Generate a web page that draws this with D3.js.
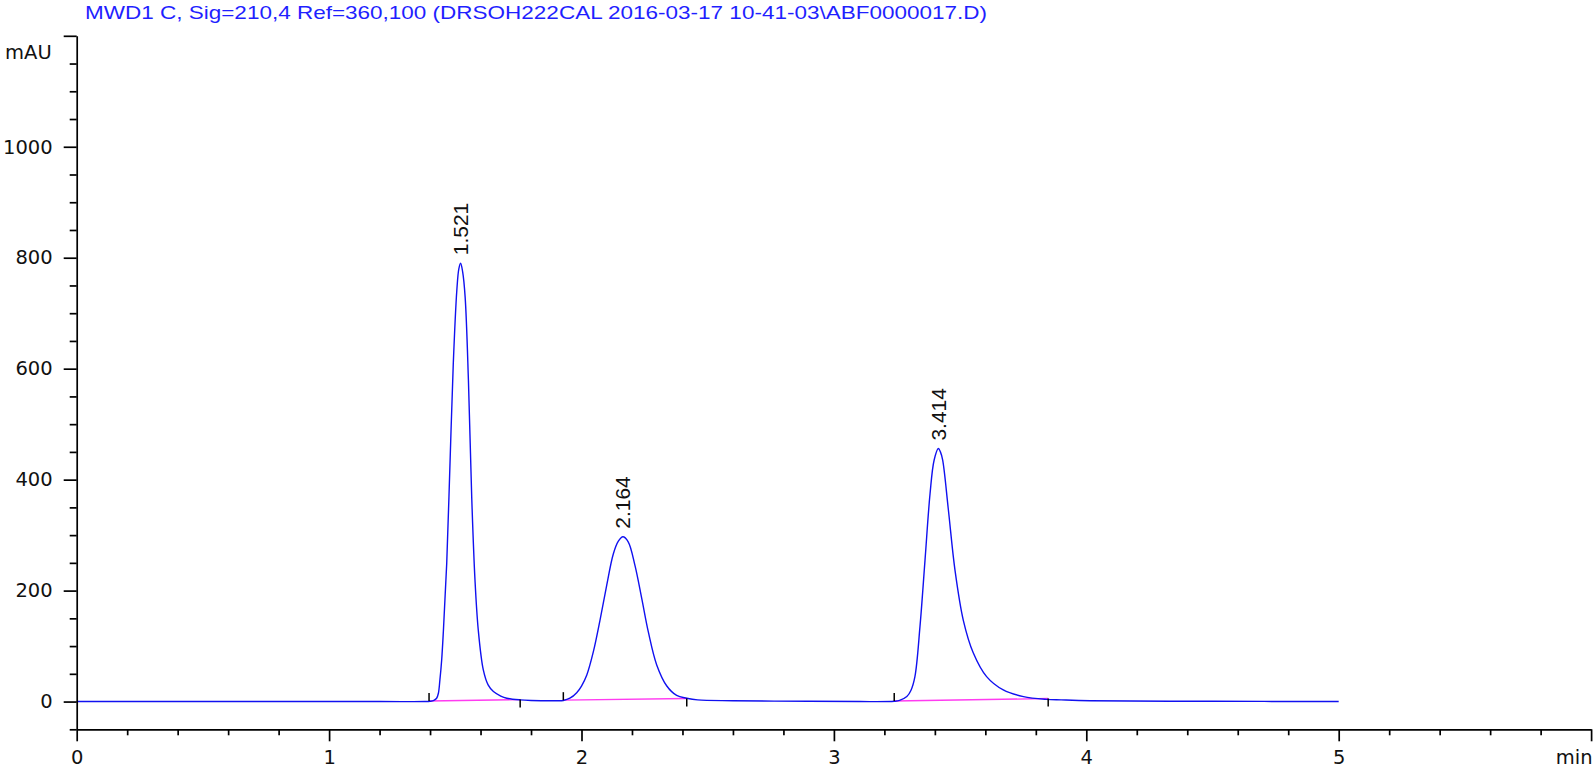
<!DOCTYPE html>
<html>
  <head>
    <meta charset="utf-8" />
    <title>Chromatogram</title>
    <script src="https://d3js.org/d3.v7.min.js"></script>
    <style>
      body {
        margin: 0px;
        background-color: white;
      }

      .axis path, .axis line {
        stroke: black;
        stroke-width: 1.7px;
      }

      .axis text {
        fill: #111;
        font-family: "DejaVu Sans", sans-serif;
        font-size: 19.5px;
      }
    </style>
</head>
<body>

    <svg id="chart">
        <g id="baselines"></g>
        <g id="trace"></g>
        <g id="markers"></g>
        <g id="labels"></g>
        <g id="x"></g>
        <g id="xminor"></g>
        <g id="y"></g>
        <g id="yminor"></g>
    </svg>

    <script>
        var title = "MWD1 C, Sig=210,4 Ref=360,100 (DRSOH222CAL 2016-03-17 10-41-03\\ABF0000017.D)";

        // signal: retention time (min) and absorbance (mAU)
        var retentionTime = [0, 1.20, 1.38, 1.400, 1.415, 1.426, 1.433, 1.439, 1.446, 1.453, 1.466, 1.479, 1.492, 1.506, 1.514, 1.521, 1.529, 1.539, 1.552, 1.565, 1.578, 1.591, 1.611, 1.630, 1.651, 1.680, 1.704, 1.757, 1.80, 1.90,
            1.928, 1.954, 1.981, 2.000, 2.021, 2.047, 2.073, 2.100, 2.126, 2.146, 2.164, 2.185, 2.212, 2.239, 2.265, 2.298, 2.338, 2.377, 2.417, 2.46, 2.60, 2.90,
            3.10, 3.239, 3.260, 3.289, 3.305, 3.321, 3.341, 3.361, 3.381, 3.397, 3.414, 3.422, 3.431, 3.453, 3.480, 3.513, 3.552, 3.605, 3.671, 3.751, 3.843, 3.90, 4.015, 4.50, 5.00];
        var absorbance = [0, 0, 0, 0.5, 2, 6, 15, 39, 75, 129, 249, 429, 609, 741, 780, 790, 775, 729, 579, 369, 219, 129, 57, 30, 18, 10, 6, 3, 2, 1.5,
            2, 6, 16, 28, 48, 90, 146, 210, 266, 289, 297, 288, 245, 185, 125, 66, 28, 11, 6, 3, 1.5, 0.5,
            0, 0.5, 2, 9, 20, 45, 135, 255, 375, 435, 456, 450, 435, 348, 236, 146, 88, 45, 21, 9, 4, 3, 1.5, 0.5, 0];

        // integrated peaks
        var peakRT = [1.521, 2.164, 3.414];
        var peakApex = [790, 297, 456];
        var peakLabels = ["1.521", "2.164", "3.414"];
        var baseStartT = [1.396, 1.928, 3.239];
        var baseStartV = [1, 2.5, 1];
        var baseEndT = [1.757, 2.417, 3.849];
        var baseEndV = [3.5, 5.5, 5.5];

        // axes
        var xMajorTicks = [0, 1, 2, 3, 4, 5, 6];
        var xTickLabels = ["0", "1", "2", "3", "4", "5", "min"];
        var yMajorTicks = [0, 200, 400, 600, 800, 1000, 1200];
        var yTickLabels = ["0", "200", "400", "600", "800", "1000", ""];
        var yUnit = "mAU";

        var width = 1596;
        var height = 773;

        var svg = d3.select("#chart")
            .attr("width", width)
            .attr("height", height);

        var x = d3.scaleLinear()
            .domain([0, 6])
            .range([76.7, 1591.1]);

        var y = d3.scaleLinear()
            .domain([-50, 1200])
            .range([729.3, 35.8]);

        // title
        svg.append("text")
            .attr("x", 85)
            .attr("y", 18.5)
            .attr("fill", "#1f1fff")
            .attr("font-family", "Liberation Sans, Arial, sans-serif")
            .attr("font-size", "18.6px")
            .attr("textLength", 902)
            .attr("lengthAdjust", "spacingAndGlyphs")
            .text(title);

        // x axis, major then minor ticks
        var xAxis = d3.axisBottom(x)
            .tickValues(xMajorTicks)
            .tickSize(12)
            .tickSizeOuter(0)
            .tickPadding(9)
            .tickFormat(function(d, i) { return xTickLabels[i]; });

        svg.select("#x")
            .attr("class", "axis")
            .attr("transform", "translate(0," + y(-50) + ")")
            .call(xAxis);

        svg.select("#x").selectAll(".tick text")
            .attr("text-anchor", function(d, i) { return i === xMajorTicks.length - 1 ? "end" : "middle"; })
            .attr("dx", function(d, i) { return i === xMajorTicks.length - 1 ? "1px" : 0; });

        var xMinor = d3.range(0, 6.001, 0.2).filter(function(d) {
            return Math.abs(d - Math.round(d)) > 0.01;
        });

        svg.select("#xminor")
            .attr("class", "axis")
            .attr("transform", "translate(0," + y(-50) + ")")
            .call(d3.axisBottom(x).tickValues(xMinor).tickSize(6).tickSizeOuter(0).tickFormat(""))
            .select(".domain").remove();

        // y axis
        var yAxis = d3.axisLeft(y)
            .tickValues(yMajorTicks)
            .tickSize(13)
            .tickSizeOuter(0)
            .tickPadding(11)
            .tickFormat(function(d, i) { return yTickLabels[i]; });

        svg.select("#y")
            .attr("class", "axis")
            .attr("transform", "translate(" + x(0) + ",0)")
            .call(yAxis);

        var yMinor = d3.range(-50, 1200, 50).filter(function(d) { return d % 200 !== 0; });

        svg.select("#yminor")
            .attr("class", "axis")
            .attr("transform", "translate(" + x(0) + ",0)")
            .call(d3.axisLeft(y).tickValues(yMinor).tickSize(7).tickSizeOuter(0).tickFormat(""))
            .select(".domain").remove();

        svg.select("#y").append("text")
            .attr("x", -25)
            .attr("y", y(1150) - 5)
            .attr("text-anchor", "end")
            .text(yUnit);

        // the signal
        var points = retentionTime.map(function(t, i) { return [t, absorbance[i]]; });

        var line = d3.line()
            .x(function(d) { return x(d[0]); })
            .y(function(d) { return y(d[1]); })
            .curve(d3.curveCatmullRom.alpha(0.5));

        svg.select("#trace").append("path")
            .datum(points)
            .attr("fill", "none")
            .attr("stroke", "#1010f0")
            .attr("stroke-width", 1.4)
            .attr("d", line);

        // integration baselines
        svg.select("#baselines").selectAll("line")
            .data(peakRT)
            .enter().append("line")
            .attr("x1", function(d, i) { return x(baseStartT[i]); })
            .attr("y1", function(d, i) { return y(baseStartV[i]); })
            .attr("x2", function(d, i) { return x(baseEndT[i]); })
            .attr("y2", function(d, i) { return y(baseEndV[i]); })
            .attr("stroke", "#ff3cf0")
            .attr("stroke-width", 1.3);

        // peak start (up) and end (down) marks
        var marks = svg.select("#markers");
        peakRT.forEach(function(d, i) {
            marks.append("line")
                .attr("x1", x(baseStartT[i])).attr("x2", x(baseStartT[i]))
                .attr("y1", y(baseStartV[i])).attr("y2", y(baseStartV[i]) - 8)
                .attr("stroke", "black").attr("stroke-width", 1.5);
            marks.append("line")
                .attr("x1", x(baseEndT[i])).attr("x2", x(baseEndT[i]))
                .attr("y1", y(baseEndV[i])).attr("y2", y(baseEndV[i]) + 8)
                .attr("stroke", "black").attr("stroke-width", 1.5);
        });

        // retention time labels
        svg.select("#labels").selectAll("text")
            .data(peakRT)
            .enter().append("text")
            .attr("transform", function(d, i) {
                return "translate(" + x(d) + "," + (y(peakApex[i]) - 8) + ") rotate(-90)";
            })
            .attr("dy", "0.35em")
            .attr("text-anchor", "start")
            .attr("fill", "#111")
            .attr("font-family", "Liberation Sans, Arial, sans-serif")
            .attr("font-size", "21px")
            .text(function(d, i) { return peakLabels[i]; });
    </script>

</body>
</html>
